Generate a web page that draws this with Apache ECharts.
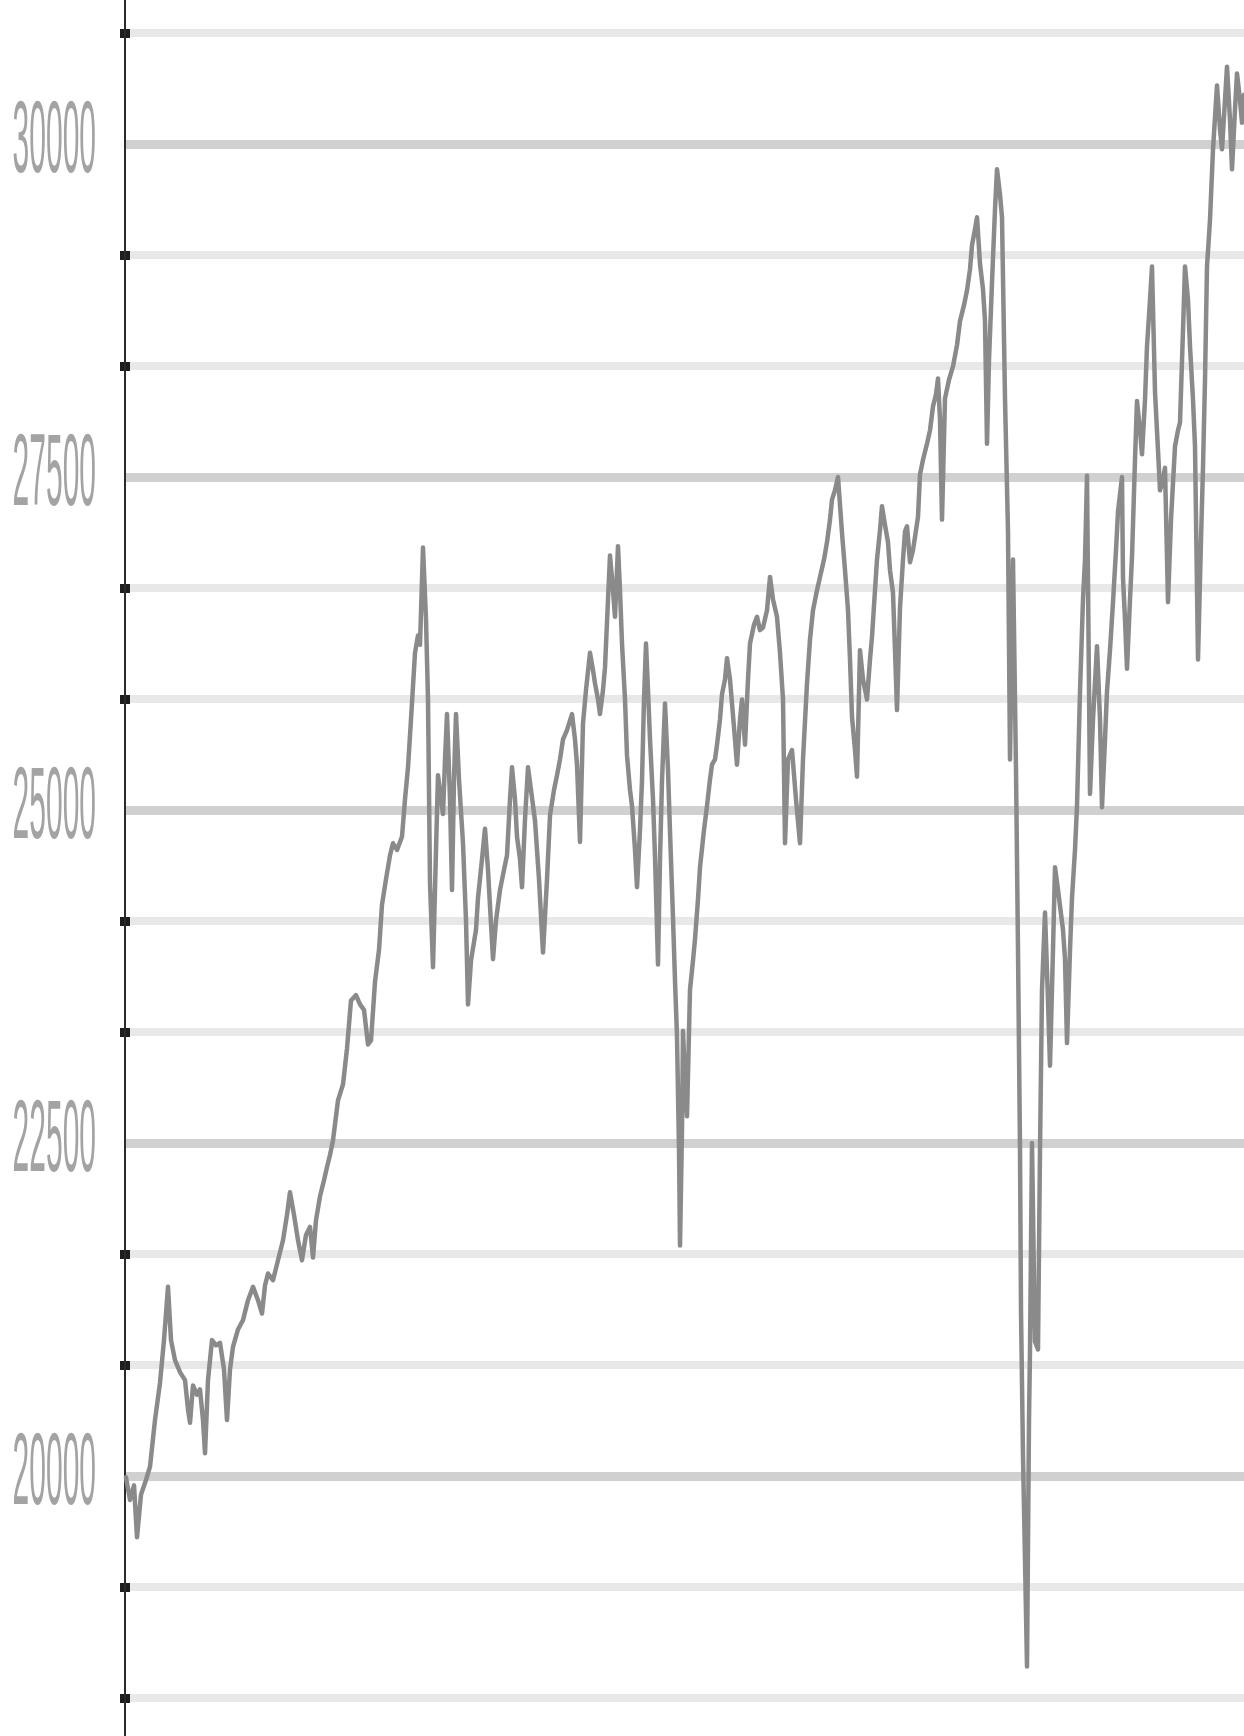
<!DOCTYPE html>
<html>
<head>
<meta charset="utf-8">
<script src="https://cdn.jsdelivr.net/npm/echarts@6/dist/echarts.min.js"></script>
<style>
html,body{margin:0;padding:0;background:#ffffff;}
#chart{width:1244px;height:1736px;}
</style>
</head>
<body>
<div id="chart"></div>
<script>
// trading-session index (x)
const sessions = [
  1,5,9,12,16,21,25,30,35,39,43,46,50,55,60,63,65,68,72,75,78,80,83,87,91,95,99,102,105,108,113,118,123,128,133,137,140,143,148,153,158,162,165,169,173,177,181,185,188,191,195,199,202,205,208,213,218,
  222,226,231,235,239,243,246,250,254,257,261,265,268,272,277,280,283,286,290,293,295,298,301,303,305,308,311,313,316,318,320,322,325,327,329,331,334,338,341,343,346,348,351,353,357,360,363,365,368,371,375,379,382,385,387,390,392,395,397,400,403,406,410,414,418,422,425,429,432,435,438,442,447,
  450,452,455,458,461,465,468,470,473,475,478,480,483,485,488,490,493,495,497,500,502,505,507,510,512,515,517,519,521,523,525,528,530,533,535,537,540,543,545,548,550,552,554,555,557,558,560,562,565,568,570,573,575,579,582,585,587,590,592,595,597,600,602,605,607,610,612,615,617,620,623,625,629,632,635,638,642,645,
  648,652,655,658,660,663,667,671,675,678,682,685,688,692,695,699,702,705,707,710,713,717,720,723,725,727,730,732,735,738,742,745,747,750,752,755,757,760,763,765,768,770,772,775,778,780,782,785,788,791,793,795,798,802,805,808,811,813,815,817,820,
  824,828,832,835,839,842,845,847,850,852,855,858,860,862,864,867,870,872,875,877,880,883,
  885,888,891,893,895,896,898,900,902,904,905,907,909,910,913,915,917,920,923,925,928,930,933,935,938,940,942,945,947,950,952,955,958,960,962,965,968,972,975,977,980,982,985,988,991,993,997,998,1000,1002,1005,1007,1010,1012,1015,1017,1020,1022,1025,1027,1030,1033,1035,1038,1040,1043,1046,1050,1053,1055,1058,1060,1063,1065,1068,1070,1073,1076,1078,1080,1082,1085,1088,1092,1095,1097,1100,1102,1105,1107,1110,1112,1115,1117,1119
];
// index closing values
const closes = [
  19990,19820,19930,19540,19860,19970,20070,20420,20700,21020,21420,21020,20870,20780,20720,20500,20400,20680,20610,20650,20420,20170,20720,21020,20980,21000,20800,20420,20800,20970,21100,21170,21320,21420,21320,21220,21430,21520,21470,21620,21770,21960,22130,21960,21770,21620,21810,21870,21640,21920,22100,22220,22320,22410,22520,22820,22940,
  23210,23570,23610,23540,23500,23240,23270,23710,23950,24290,24480,24660,24750,24700,24800,25080,25320,25680,26180,26310,26240,26970,26430,25830,24450,23820,24700,25260,25080,24970,25380,25720,25080,24400,25230,25720,25230,24750,24170,23540,23870,23880,24100,24340,24630,24860,24550,24280,23880,24170,24400,24550,24660,25080,25320,25080,24800,24630,24420,24930,25320,25150,24920,24480,23930,24480,24960,25150,25260,25380,25530,25600,25720,
  25530,25340,24760,25650,25900,26180,26050,25950,25830,25720,25900,26070,26580,26910,26650,26450,26980,26650,26250,25830,25410,25150,25030,24700,24420,24850,25220,25830,26250,25900,25530,25080,24650,23840,24630,25220,25800,25300,24840,24190,23720,23300,22450,21730,22600,23340,22970,22700,23650,23870,24030,24330,24570,24850,25030,25230,25340,25380,25490,25680,25870,25980,26140,25980,25800,25530,25340,25680,25830,25490,25980,26250,26390,26450,26350,26370,26500,26750,
  26580,26450,26180,25830,24750,25380,25450,25080,24750,25380,25950,26280,26500,26650,26750,26880,27010,27180,27330,27400,27500,27080,26800,26500,26130,25700,25450,25250,26200,25980,25830,26130,26300,26650,26880,27100,27280,27140,27010,26800,26630,26200,25750,26520,26880,27090,27130,26860,26950,27100,27200,27520,27630,27750,27850,28030,28120,28240,27930,27180,28090,
  28230,28330,28490,28670,28790,28900,29060,29240,29360,29450,29100,28910,28670,27750,28380,28960,29510,29810,29620,29450,28090,27090,
  25380,26880,25300,23950,22450,21240,20150,19370,18570,20420,20950,22500,21470,21010,20950,22450,23650,24230,23570,23080,23950,24570,24400,24280,24100,23880,23250,23950,24340,24700,25030,25890,26580,26880,27510,25120,25680,26230,25680,25020,25530,25890,26200,26560,26950,27240,27500,26740,26430,26060,26580,26900,27630,28070,27850,27670,28080,28480,28830,29080,28140,27700,27400,27480,27570,26560,27180,27730,27850,27910,28600,29080,28830,28480,28080,27730,26130,27030,27570,28230,29080,29430,29960,30440,30110,29960,30330,30580,30180,29810,30260,30530,30330,30160,30370
];
const yLabels = [20000, 22500, 25000, 27500, 30000];
const minorTickValues = [18333.33, 19166.67, 20833.33, 21666.67, 23333.33, 24166.67, 25833.33, 26666.67, 28333.33, 29166.67, 30833.33];
const yMin = 18048;
const yMax = 31081;

const seriesData = sessions.map((s, i) => [s, closes[i]]);

const chart = echarts.init(document.getElementById('chart'), null, {renderer: 'canvas'});
const option = {
  backgroundColor: '#ffffff',
  animation: false,
  grid: {left: 125, right: 0, top: 0, bottom: 0, containLabel: false},
  xAxis: {type: 'value', min: 0, max: 1119, show: false},
  yAxis: [
    {
      type: 'value', min: yMin, max: yMax, position: 'left', z: 1,
      axisLine: {show: true, lineStyle: {color: '#2b2b2b', width: 2}},
      axisTick: {show: false, customValues: yLabels},
      axisLabel: {show: false},
      splitLine: {show: true, lineStyle: {color: '#d0d0d0', width: 9}}
    },
    {
      type: 'value', min: yMin, max: yMax, position: 'left', offset: -5, z: 0,
      axisLine: {show: false},
      axisTick: {show: true, inside: false, length: 10, customValues: minorTickValues, lineStyle: {color: '#1e1e1e', width: 9}},
      axisLabel: {show: false},
      splitLine: {show: true, lineStyle: {color: '#e8e8e8', width: 8}}
    }
  ],
  series: [{
    type: 'line',
    xAxisIndex: 0,
    yAxisIndex: 0,
    data: seriesData,
    symbol: 'none',
    smooth: false,
    z: 3,
    lineStyle: {color: '#8a8a8a', width: 4.5, cap: 'round', join: 'round'}
  }]
};
chart.setOption(option);

const labelElements = yLabels.map(v => ({
  type: 'text',
  x: 96,
  y: chart.convertToPixel({yAxisIndex: 0}, v),
  scaleY: 3.4,
  z: 20,
  style: {
    text: String(v),
    fill: '#a3a3a3',
    font: '30px "Liberation Sans", Arial, sans-serif',
    align: 'right',
    verticalAlign: 'middle'
  }
}));
chart.setOption({graphic: labelElements});
</script>
</body>
</html>
